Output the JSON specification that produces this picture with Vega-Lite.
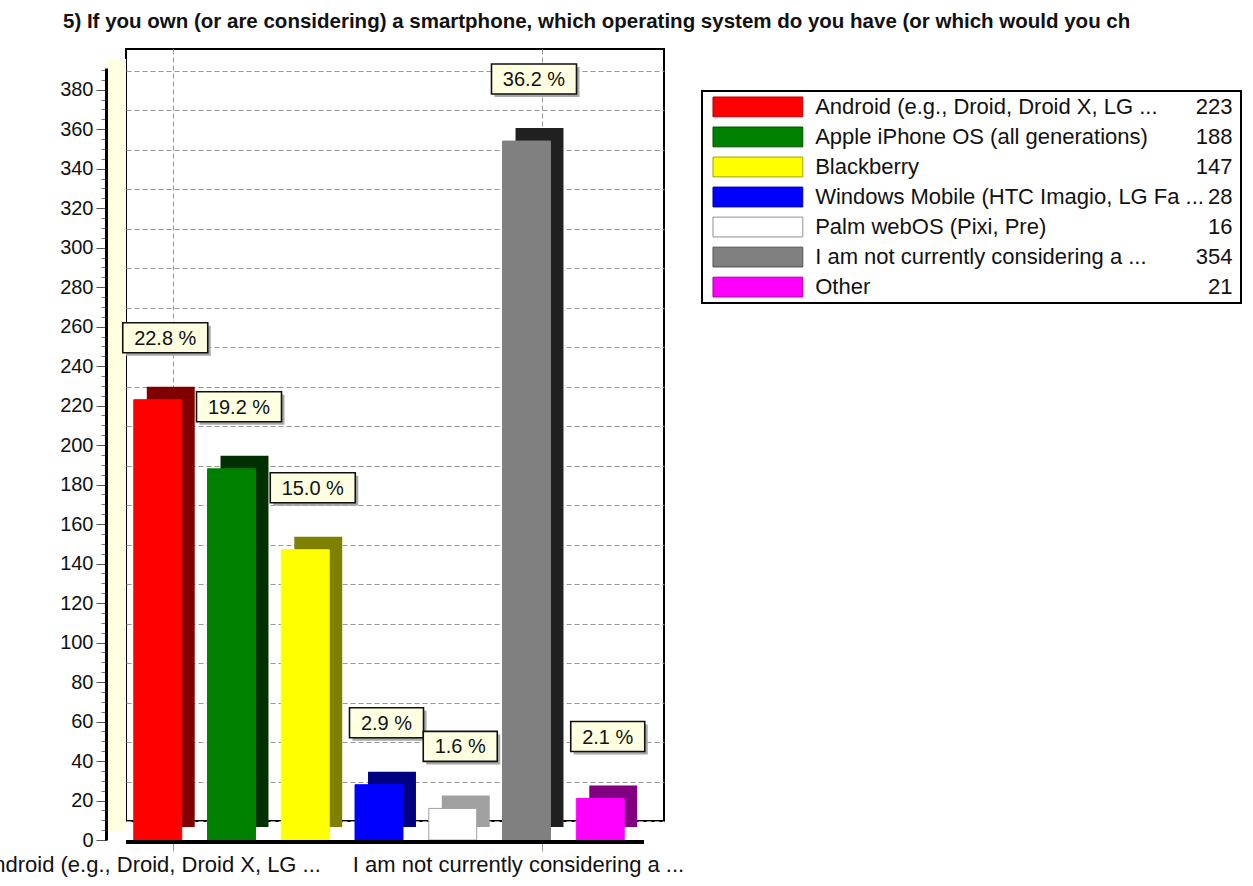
{
  "$schema": "https://vega.github.io/schema/vega-lite/v6.json",
  "autosize": {"type": "none"},
  "padding": {"left": 126, "top": 49, "right": 1127, "bottom": 837},
  "background": "white",
  "config": {"font": "Liberation Sans", "view": {"stroke": null}},
  "title": {
    "text": "5) If you own (or are considering) a smartphone, which operating system do you have (or which would you ch",
    "anchor": "start", "frame": "group", "dx": -63, "dy": 21, "offset": 21, "baseline": "alphabetic",
    "fontSize": 20.5, "font": "Liberation Sans", "fontWeight": "bold", "color": "#111"
  },
  "datasets": {
    "d": [
      {"cat": "Android (e.g., Droid, Droid X, LG ...", "count": 223, "pct": "22.8 %"},
      {"cat": "Apple iPhone OS (all generations)", "count": 188, "pct": "19.2 %"},
      {"cat": "Blackberry", "count": 147, "pct": "15.0 %"},
      {"cat": "Windows Mobile (HTC Imagio, LG Fa ...", "count": 28, "pct": "2.9 %"},
      {"cat": "Palm webOS (Pixi, Pre)", "count": 16, "pct": "1.6 %"},
      {"cat": "I am not currently considering a  ...", "count": 354, "pct": "36.2 %"},
      {"cat": "Other", "count": 21, "pct": "2.1 %"}
    ]
  },
  "bounds": "flush",
  "spacing": 38,
  "hconcat": [
    {
      "width": 538,
      "height": 772,
      "view": {"stroke": "black", "strokeWidth": 2},
      "data": {"name": "d"},
      "resolve": {"scale": {"fill": "independent", "stroke": "independent"}, "axis": {"y": "independent"}},
      "layer": [
        {
          "mark": {"type": "bar", "xOffset": -3, "yOffset": 6},
          "encoding": {
            "x": {"field": "cat", "type": "nominal", "sort": null,
              "scale": {"paddingInner": 0.35, "paddingOuter": 0.3225},
              "axis": {"title": null, "values": ["Android (e.g., Droid, Droid X, LG ...", "I am not currently considering a  ..."],
                "grid": true, "gridDash": [5, 3], "gridColor": "#999", "domain": false,
                "ticks": true, "tickSize": 8, "tickColor": "#999", "offset": 22, "labelAngle": 0,
                "labelFontSize": 22, "labelColor": "#111", "labelOffset": -24, "labelPadding": 3,
                "labelLimit": 1000, "labelOverlap": false}},
            "y": {"field": "count", "type": "quantitative", "scale": {"domain": [0, 391], "nice": false},
              "axis": {"orient": "left", "offset": 20, "translate": 10, "domainColor": "#FFFFE1", "domainWidth": 20,
                "domainCap": "butt", "ticks": false, "labels": false, "grid": false, "title": null}},
            "fill": {"field": "cat", "type": "nominal", "sort": null, "legend": null,
              "scale": {"range": ["#800000", "#003000", "#808000", "#000080", "#A0A0A0", "#202020", "#800080"]}}
          }
        },
        {
          "mark": {"type": "bar", "xOffset": -16, "yOffset": 19, "strokeWidth": 1},
          "encoding": {
            "x": {"field": "cat", "type": "nominal", "sort": null,
              "scale": {"paddingInner": 0.35, "paddingOuter": 0.3225},
              "axis": {"title": null, "values": ["Android (e.g., Droid, Droid X, LG ...", "I am not currently considering a  ..."],
                "grid": true, "gridDash": [5, 3], "gridColor": "#999", "domain": false,
                "ticks": true, "tickSize": 8, "tickColor": "#999", "offset": 22, "labelAngle": 0,
                "labelFontSize": 22, "labelColor": "#111", "labelOffset": -24, "labelPadding": 3,
                "labelLimit": 1000, "labelOverlap": false}},
            "y": {"field": "count", "type": "quantitative", "scale": {"domain": [0, 391], "nice": false},
              "axis": {"orient": "left", "grid": true, "gridDash": [5, 3], "gridColor": "#999", "domain": false,
                "ticks": false, "labels": false, "title": null,
                "values": [0, 20, 40, 60, 80, 100, 120, 140, 160, 180, 200, 220, 240, 260, 280, 300, 320, 340, 360, 380]}},
            "fill": {"field": "cat", "type": "nominal", "sort": null, "legend": null,
              "scale": {"range": ["#FF0000", "#008000", "#FFFF00", "#0000FF", "#FFFFFF", "#808080", "#FF00FF"]}},
            "stroke": {"field": "cat", "type": "nominal", "sort": null, "legend": null,
              "scale": {"range": ["#FF0000", "#008000", "#FFFF00", "#0000FF", "#A0A0A0", "#808080", "#FF00FF"]}}
          }
        },
        {
          "mark": {"type": "point", "filled": true, "opacity": 1, "fill": "#A8A8A8", "strokeWidth": 0, "xOffset": -5.5, "yOffset": -40},
          "encoding": {
            "x": {"field": "cat", "type": "nominal", "sort": null,
              "scale": {"paddingInner": 0.35, "paddingOuter": 0.3225},
              "axis": {"title": null, "values": ["Android (e.g., Droid, Droid X, LG ...", "I am not currently considering a  ..."],
                "grid": true, "gridDash": [5, 3], "gridColor": "#999", "domain": false,
                "ticks": true, "tickSize": 8, "tickColor": "#999", "offset": 22, "labelAngle": 0,
                "labelFontSize": 22, "labelColor": "#111", "labelOffset": -24, "labelPadding": 3,
                "labelLimit": 1000, "labelOverlap": false}},
            "y": {"field": "count", "type": "quantitative", "scale": {"domain": [0, 391], "nice": false},
              "axis": {"orient": "left", "offset": 39, "translate": 19.5, "domain": false, "labels": false, "grid": false,
                "ticks": true, "tickSize": 5, "tickColor": "#777", "title": null,
                "values": [5, 10, 15, 25, 30, 35, 45, 50, 55, 65, 70, 75, 85, 90, 95, 105, 110, 115, 125, 130, 135, 145, 150, 155, 165, 170, 175, 185, 190, 195, 205, 210, 215, 225, 230, 235, 245, 250, 255, 265, 270, 275, 285, 290, 295, 305, 310, 315, 325, 330, 335, 345, 350, 355, 365, 370, 375, 385, 390]}},
            "shape": {"condition": {"test": "datum.count >= 100", "value": "M-1,-0.353H1V0.353H-1Z"}, "value": "M-1,-0.405H1V0.405H-1Z"},
            "size": {"condition": {"test": "datum.count >= 100", "value": 7225}, "value": 5476}
          }
        },
        {
          "mark": {"type": "point", "filled": true, "opacity": 1, "fill": "#FFFFE1", "stroke": "#111", "strokeWidth": 1.6, "xOffset": -8.5, "yOffset": -43},
          "encoding": {
            "x": {"field": "cat", "type": "nominal", "sort": null,
              "scale": {"paddingInner": 0.35, "paddingOuter": 0.3225},
              "axis": {"title": null, "values": ["Android (e.g., Droid, Droid X, LG ...", "I am not currently considering a  ..."],
                "grid": true, "gridDash": [5, 3], "gridColor": "#999", "domain": false,
                "ticks": true, "tickSize": 8, "tickColor": "#999", "offset": 22, "labelAngle": 0,
                "labelFontSize": 22, "labelColor": "#111", "labelOffset": -24, "labelPadding": 3,
                "labelLimit": 1000, "labelOverlap": false}},
            "y": {"field": "count", "type": "quantitative", "scale": {"domain": [0, 391], "nice": false},
              "axis": {"orient": "left", "offset": 39, "translate": 19.5, "domainColor": "#000", "domainWidth": 3,
                "ticks": true, "tickSize": 10, "tickColor": "#555", "labelFontSize": 20, "labelColor": "#111",
                "labelPadding": 3, "grid": false, "title": null,
                "values": [0, 20, 40, 60, 80, 100, 120, 140, 160, 180, 200, 220, 240, 260, 280, 300, 320, 340, 360, 380]}},
            "shape": {"condition": {"test": "datum.count >= 100", "value": "M-1,-0.353H1V0.353H-1Z"}, "value": "M-1,-0.405H1V0.405H-1Z"},
            "size": {"condition": {"test": "datum.count >= 100", "value": 7225}, "value": 5476}
          }
        },
        {
          "mark": {"type": "text", "fontSize": 20, "color": "#111", "align": "center", "baseline": "middle", "xOffset": -8.5, "yOffset": -42},
          "encoding": {
            "x": {"field": "cat", "type": "nominal", "sort": null,
              "scale": {"paddingInner": 0.35, "paddingOuter": 0.3225},
              "axis": {"title": null, "values": ["Android (e.g., Droid, Droid X, LG ...", "I am not currently considering a  ..."],
                "grid": true, "gridDash": [5, 3], "gridColor": "#999", "domain": false,
                "ticks": true, "tickSize": 8, "tickColor": "#999", "offset": 22, "labelAngle": 0,
                "labelFontSize": 22, "labelColor": "#111", "labelOffset": -24, "labelPadding": 3,
                "labelLimit": 1000, "labelOverlap": false}},
            "y": {"field": "count", "type": "quantitative", "scale": {"domain": [0, 391], "nice": false}, "axis": null},
            "text": {"field": "pct"}
          }
        },
        {
          "mark": {"type": "rule", "strokeWidth": 3, "color": "#000", "xOffset": -20, "yOffset": 21},
          "encoding": {
            "y": {"datum": 0, "type": "quantitative", "scale": {"domain": [0, 391], "nice": false}, "axis": null}
          }
        }
      ]
    },
    {
      "bounds": "flush",
      "spacing": 0,
      "vconcat": [
        {
          "width": 539,
          "height": 42,
          "data": {"values": []},
          "mark": "text"
        },
        {
          "width": 539,
          "height": 212,
          "data": {"name": "d"},
          "layer": [
            {
              "mark": {"type": "rect", "fill": "#000", "xOffset": 6, "yOffset": 6},
              "encoding": {"x": {"value": 0}, "x2": {"value": "width"}, "y": {"value": 0}, "y2": {"value": "height"}}
            },
            {
              "mark": {"type": "rect", "fill": "#FFFFFF", "stroke": "#000", "strokeWidth": 2},
              "encoding": {"x": {"value": 0}, "x2": {"value": "width"}, "y": {"value": 0}, "y2": {"value": "height"}}
            },
            {
              "mark": {"type": "rect", "strokeWidth": 1},
              "encoding": {
                "y": {"field": "cat", "type": "nominal", "sort": null, "scale": {"paddingInner": 0.34, "paddingOuter": 0.2}, "axis": null},
                "x": {"datum": 2.04, "type": "quantitative", "scale": {"domain": [0, 100]}, "axis": null},
                "x2": {"datum": 18.7},
                "fill": {"field": "cat", "type": "nominal", "sort": null, "legend": null,
                  "scale": {"range": ["#FF0000", "#008000", "#FFFF00", "#0000FF", "#FFFFFF", "#808080", "#FF00FF"]}},
                "stroke": {"field": "cat", "type": "nominal", "sort": null, "legend": null,
                  "scale": {"range": ["#B00000", "#005000", "#A0A000", "#0000A0", "#909090", "#505050", "#A000A0"]}}
              }
            },
            {
              "mark": {"type": "text", "align": "left", "baseline": "middle", "fontSize": 22, "color": "#111"},
              "encoding": {
                "y": {"field": "cat", "type": "nominal", "sort": null, "scale": {"paddingInner": 0.34, "paddingOuter": 0.2}, "axis": null},
                "x": {"datum": 21, "type": "quantitative", "scale": {"domain": [0, 100]}, "axis": null},
                "text": {"field": "cat"}
              }
            },
            {
              "mark": {"type": "text", "align": "right", "baseline": "middle", "fontSize": 22, "color": "#111"},
              "encoding": {
                "y": {"field": "cat", "type": "nominal", "sort": null, "scale": {"paddingInner": 0.34, "paddingOuter": 0.2}, "axis": null},
                "x": {"datum": 98.4, "type": "quantitative", "scale": {"domain": [0, 100]}, "axis": null},
                "text": {"field": "count"}
              }
            }
          ]
        }
      ]
    }
  ]
}
